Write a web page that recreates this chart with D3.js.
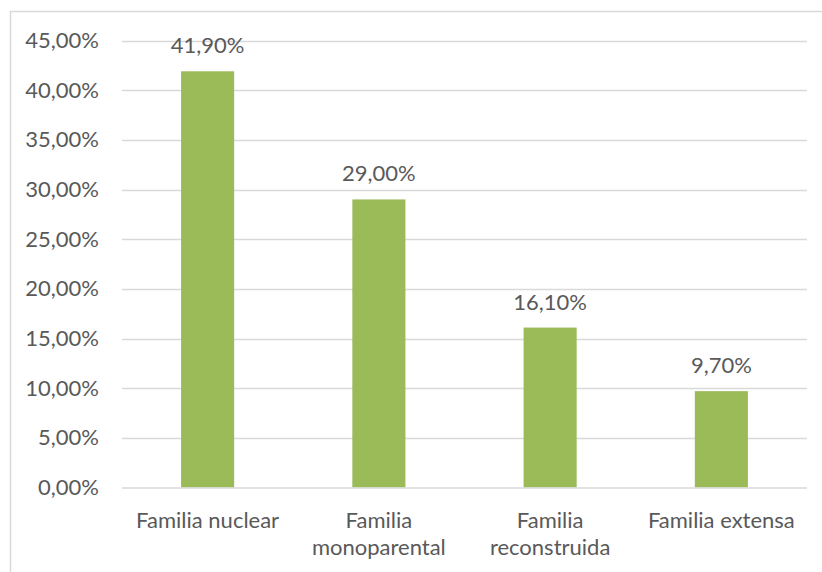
<!DOCTYPE html>
<html><head><meta charset="utf-8">
<script src="https://cdn.jsdelivr.net/npm/d3@7"></script>
<style>body{margin:0;background:#fff;}svg{display:block;font-family:Lato,"Open Sans",sans-serif;}</style>
</head><body>
<svg id="c" width="822" height="572"></svg>
<script>
const categories = [["Familia nuclear"], ["Familia", "monoparental"], ["Familia", "reconstruida"], ["Familia extensa"]];
const values = [41.9, 29.0, 16.1, 9.7];
const valueLabels = ["41,90%", "29,00%", "16,10%", "9,70%"];
const yTicks = [0, 5, 10, 15, 20, 25, 30, 35, 40, 45];
const yTickLabels = ["0,00%", "5,00%", "10,00%", "15,00%", "20,00%", "25,00%", "30,00%", "35,00%", "40,00%", "45,00%"];

(function () {
const svg = d3.select("#c");
const W = 822, H = 572;
const pLeft = 122, pRight = 807, pTop = 40.5, pBottom = 487.5;
const textColor = "#595959", gridColor = "#D9D9D9", barColor = "#9BBB59";
const fs = 22;

// outer chart border
svg.append("rect").attr("x", 10.5).attr("y", 11.5).attr("width", W).attr("height", H)
  .attr("fill", "none").attr("stroke", gridColor).attr("stroke-width", 1.5);

const x = d3.scaleBand().domain(d3.range(values.length)).range([pLeft, pRight]).paddingInner(0.69).paddingOuter(0.345);
const y = d3.scaleLinear().domain([0, 45]).range([pBottom, pTop]);

// gridlines
svg.append("g").selectAll("line").data(yTicks.filter(d => d > 0)).join("line")
  .attr("x1", pLeft).attr("x2", pRight)
  .attr("y1", d => Math.round(y(d)) + 0.5).attr("y2", d => Math.round(y(d)) + 0.5)
  .attr("stroke", gridColor).attr("stroke-width", 1.3);

// y axis labels
const yAxis = d3.axisLeft(y).tickValues(yTicks).tickFormat((d, i) => yTickLabels[i]).tickSize(0).tickPadding(0);
const ga = svg.append("g").attr("transform", "translate(99,0)").call(yAxis);
ga.select(".domain").remove();
ga.selectAll("text").attr("fill", textColor).style("font-size", fs + "px").style("font-family", "Lato,'Open Sans',sans-serif");

// bars
svg.append("g").selectAll("rect").data(values).join("rect")
  .attr("x", (d, i) => x(i)).attr("width", x.bandwidth())
  .attr("y", d => y(d)).attr("height", d => y(0) - y(d))
  .attr("fill", barColor);

// x axis line
svg.append("line").attr("x1", pLeft).attr("x2", pRight).attr("y1", pBottom + 0.5).attr("y2", pBottom + 0.5)
  .attr("stroke", gridColor).attr("stroke-width", 1.3);

// value labels
svg.append("g").selectAll("text").data(values).join("text")
  .attr("x", (d, i) => x(i) + x.bandwidth() / 2).attr("y", d => y(d) - 18)
  .attr("text-anchor", "middle").attr("fill", textColor).style("font-size", fs + "px")
  .text((d, i) => valueLabels[i]);

// category labels
const cg = svg.append("g").selectAll("text").data(categories).join("text")
  .attr("x", (d, i) => x(i) + x.bandwidth() / 2).attr("y", 527.5)
  .attr("text-anchor", "middle").attr("fill", textColor).style("font-size", fs + "px");
cg.selectAll("tspan").data(d => d).join("tspan")
  .attr("x", function () { return this.parentNode.getAttribute("x"); })
  .attr("dy", (d, i) => i === 0 ? 0 : 27).text(d => d);
})();
</script>
</body></html>
